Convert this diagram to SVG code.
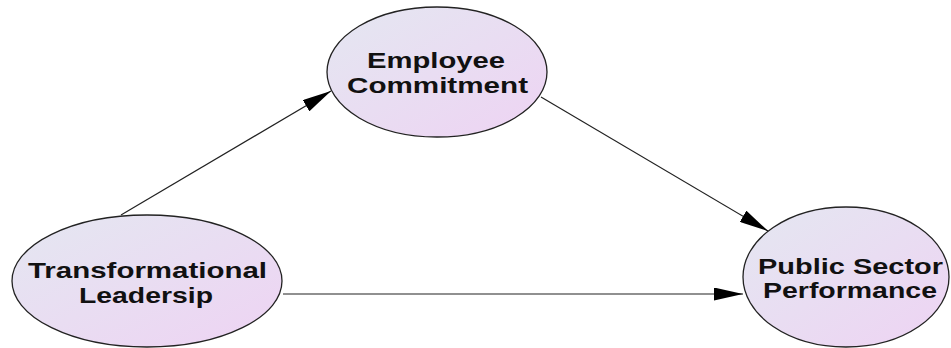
<svg xmlns="http://www.w3.org/2000/svg" width="951" height="348" viewBox="0 0 951 348">
<style>
.node ellipse{stroke:#222;stroke-width:1.3;fill:url(#g)}
.node text{font-family:"Liberation Sans",Arial,sans-serif;font-weight:bold;font-size:22px;fill:#111;text-anchor:middle}
.edge{stroke:#222;stroke-width:1.2;fill:none;marker-end:url(#ah)}
</style>
<defs>
<linearGradient id="g" x1="0" y1="0" x2="1" y2="1">
<stop offset="0" stop-color="#e4e7f1"/>
<stop offset="1" stop-color="#eed3f3"/>
</linearGradient>
<marker id="ah" markerWidth="29" markerHeight="13" refX="29" refY="6.5" orient="auto" markerUnits="userSpaceOnUse">
<path d="M0,0 L29,6.5 L0,13 Z" fill="#000"/>
</marker>
</defs>
<rect width="951" height="348" fill="#fff"/>
<g id="connectors">
<line class="edge" x1="121" y1="215" x2="331" y2="91"/>
<line class="edge" x1="541" y1="97" x2="768" y2="231"/>
<line class="edge" x1="283" y1="294" x2="743" y2="294"/>
</g>
<g id="employee-commitment" class="node">
<ellipse cx="437" cy="72" rx="110" ry="65"/>
<text x="436" y="68" textLength="138" lengthAdjust="spacingAndGlyphs">Employee</text>
<text x="437.5" y="93" textLength="181" lengthAdjust="spacingAndGlyphs">Commitment</text>
</g>
<g id="transformational-leadership" class="node">
<ellipse cx="147" cy="281" rx="135" ry="66"/>
<text x="147.5" y="278" textLength="239" lengthAdjust="spacingAndGlyphs">Transformational</text>
<text x="146" y="303" textLength="134" lengthAdjust="spacingAndGlyphs">Leadersip</text>
</g>
<g id="public-sector-performance" class="node">
<ellipse cx="846" cy="277" rx="103" ry="70"/>
<text x="850.5" y="274" textLength="185" lengthAdjust="spacingAndGlyphs">Public Sector</text>
<text x="850" y="298" textLength="174" lengthAdjust="spacingAndGlyphs">Performance</text>
</g>
</svg>
